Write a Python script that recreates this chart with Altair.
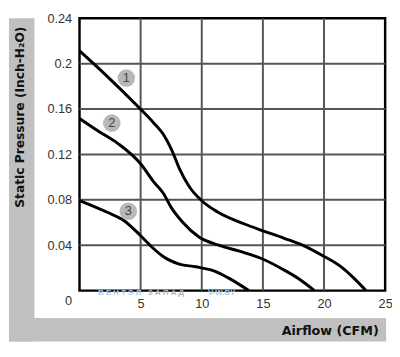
import altair as alt
import pandas as pd

# Curve data (Airflow CFM, Static pressure inch-H2O)
c1_x = [0, 2.05, 4.98, 6.05, 6.84, 7.5, 8.17, 8.97, 9.98, 11.37, 13.5, 14.96, 16.69, 18.55, 19.89, 21.35, 22.42, 23.43]
c1_y = [0.2113, 0.191, 0.160, 0.148, 0.138, 0.125, 0.1076, 0.0918, 0.0794, 0.0688, 0.0587, 0.0529, 0.0463, 0.0386, 0.0308, 0.0213, 0.0112, 0.0]
c2_x = [0, 1.52, 3.12, 4.98, 6.05, 6.84, 7.51, 8.44, 9.77, 11.37, 13.23, 14.83, 16.69, 18.02, 19.22]
c2_y = [0.1517, 0.1407, 0.1298, 0.112, 0.0961, 0.086, 0.0731, 0.0602, 0.0472, 0.040, 0.0343, 0.0285, 0.0184, 0.0098, 0.0]
c3_x = [0, 2.32, 3.65, 4.98, 6.05, 6.84, 8.17, 9.5, 11.1, 12.17, 13.85]
c3_y = [0.0794, 0.0688, 0.0616, 0.0486, 0.0371, 0.030, 0.0233, 0.021, 0.017, 0.0112, 0.0]

badge_labels = ["1", "2", "3"]
badge_x = [3.83, 2.64, 3.99]
badge_y = [0.1873, 0.1476, 0.0699]

x_ticks = [5, 10, 15, 20, 25]
y_ticks = [0, 0.04, 0.08, 0.12, 0.16, 0.2, 0.24]
x_grid = [5, 10, 15, 20]
y_grid = [0.04, 0.08, 0.12, 0.16, 0.2]

wm_text = ["В Е Н Т Э Л", "З А П А Д", "V-W.BY"]
wm_x = [1.52, 5.6, 10.5]
wm_y = [-0.0022, -0.0022, -0.0022]
wm_color = ["#a8cbea", "#b0b0b0", "#a8cbea"]

rows = []
for name, xs, ys in [("1", c1_x, c1_y), ("2", c2_x, c2_y), ("3", c3_x, c3_y)]:
    for a, b in zip(xs, ys):
        rows.append({"curve": name, "cfm": a, "p": b})
curves = pd.DataFrame(rows)
badges = pd.DataFrame({"label": badge_labels, "cfm": badge_x, "p": badge_y})
wm = pd.DataFrame({"t": wm_text, "cfm": wm_x, "p": wm_y, "c": wm_color})
xg = pd.DataFrame({"cfm": x_grid})
yg = pd.DataFrame({"p": y_grid})

FONT = "Liberation Sans"
TFONT = "DejaVu Sans"

xscale = alt.Scale(domain=[0, 25], nice=False)
yscale = alt.Scale(domain=[0, 0.24], nice=False)

dummy = pd.DataFrame({"a": [0]})
gray = "#c0c0c0"
band_left = alt.Chart(dummy).mark_rect(color=gray).encode(
    x=alt.value(-72), x2=alt.value(-46), y=alt.value(0), y2=alt.value(330)
)
band_bottom = alt.Chart(dummy).mark_rect(color=gray).encode(
    x=alt.value(-72), x2=alt.value(313), y=alt.value(306), y2=alt.value(330)
)

grid_v = alt.Chart(xg).mark_rule(color="#555", strokeWidth=2).encode(
    x=alt.X("cfm:Q", scale=xscale)
)
grid_h = alt.Chart(yg).mark_rule(color="#555", strokeWidth=2).encode(
    y=alt.Y("p:Q", scale=yscale)
)

lines = alt.Chart(curves).mark_line(color="black", strokeWidth=3, interpolate="monotone").encode(
    x=alt.X("cfm:Q", scale=xscale, axis=alt.Axis(
        values=x_ticks, title="Airflow (CFM)", grid=False, zindex=1,
        domain=False, ticks=False, labelFlush=False, labelPadding=7,
        labelFont=FONT, labelFontSize=13, labelColor="#333",
        titleFont=TFONT, titleFontSize=13, titleFontWeight="bold", titleColor="#111",
        titleAlign="right", titleBaseline="middle", titleX=305, titleY=41,
    )),
    y=alt.Y("p:Q", scale=yscale, axis=alt.Axis(
        values=y_ticks, format="~g", title="Static Pressure (Inch-H₂O)", grid=False, zindex=1,
        domain=False, ticks=False, labelPadding=8,
        labelOffset={"condition": {"test": "datum.value == 0", "value": 10}, "value": 0},
        labelFont=FONT, labelFontSize=13, labelColor="#333",
        titleFont=TFONT, titleFontSize=12.5, titleFontWeight="bold", titleColor="#111",
        titleAngle=270, titleAlign="right", titleBaseline="middle", titleX=-61, titleY=8,
    )),
    detail="curve:N",
)

circles = alt.Chart(badges).mark_point(filled=True, shape="circle", size=320, color="#b8b8b8", opacity=1).encode(
    x=alt.X("cfm:Q", scale=xscale), y=alt.Y("p:Q", scale=yscale)
)
nums = alt.Chart(badges).mark_text(font=FONT, fontSize=13, color="#444", baseline="middle", align="center").encode(
    x=alt.X("cfm:Q", scale=xscale), y=alt.Y("p:Q", scale=yscale), text="label:N"
)
watermark = alt.Chart(wm).mark_text(font=FONT, fontSize=8, fontWeight="bold", align="left", baseline="middle").encode(
    x=alt.X("cfm:Q", scale=xscale), y=alt.Y("p:Q", scale=yscale), text="t:N",
    color=alt.Color("c:N", scale=None),
)

chart = alt.layer(band_left, band_bottom, grid_v, grid_h, watermark, lines, circles, nums).properties(
    width=312, height=278,
    autosize=alt.AutoSizeParams(type="none"),
    padding={"left": 73, "top": 7, "right": 7, "bottom": 50},
    background="white",
).configure_view(stroke="black", strokeWidth=2.5)

chart.save("out.html", embed_options={"renderer": "svg", "actions": False})
